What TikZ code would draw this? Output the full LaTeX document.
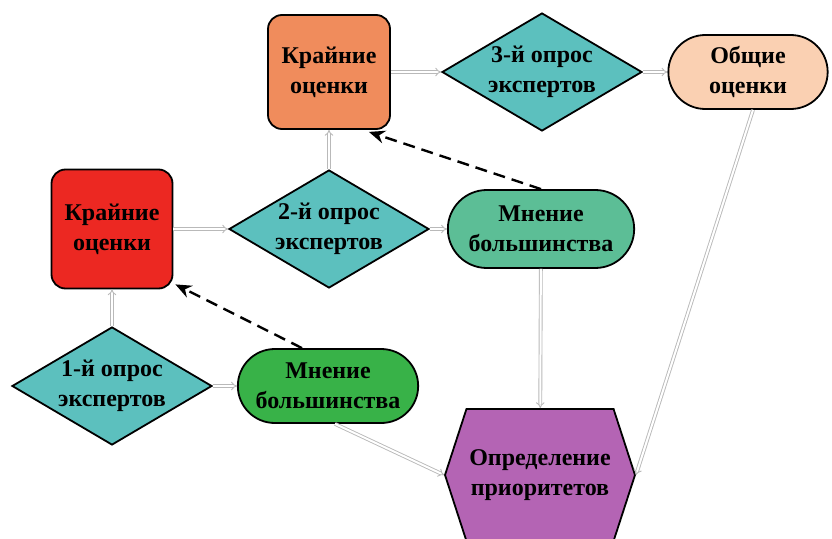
\documentclass[tikz,border=0pt]{standalone}
\usepackage{fontspec}
\setmainfont{Liberation Serif}
\definecolor{exorange}{RGB}{240,140,92}
\definecolor{exred}{RGB}{236,40,34}
\definecolor{exteal}{RGB}{92,192,190}
\definecolor{expeach}{RGB}{250,208,178}
\definecolor{exmint}{RGB}{92,190,150}
\definecolor{exgreen}{RGB}{56,178,72}
\definecolor{expurple}{RGB}{180,100,180}
\usetikzlibrary{arrows.meta,shapes.geometric,shapes.misc,shapes.symbols}

\begin{document}
\begin{tikzpicture}[x=1pt,y=-1pt,
  txt/.style={font=\bfseries\fontsize{24}{30}\selectfont,align=center,draw,line width=1.8pt},
  box/.style={txt,rectangle,rounded corners=14pt},
  poll/.style={txt,diamond,aspect=1.7,inner sep=0pt,minimum width=200pt,minimum height=118pt,fill=exteal},
  pill/.style={txt,rounded rectangle,minimum height=76pt},
  conn/.style={draw=gray!55,double=white,double distance=2pt,line width=0.9pt,-{Implies}},
  back/.style={dashed,dash pattern=on 12pt off 7pt,line width=2.4pt,-{Stealth[length=16pt,width=13pt]}}]
\useasboundingbox (0,0) rectangle (832,538);
\node[box,fill=exorange,minimum width=122pt,minimum height=114pt] (ext2) at (329,72) {Крайние\\оценки};
\node[poll] (q3) at (542,72) {3-й опрос\\экспертов};
\node[pill,fill=expeach,minimum width=166pt,minimum height=74pt] (common) at (748,72) {Общие\\оценки};
\node[box,fill=exred,minimum width=121pt,minimum height=119pt] (ext1) at (112,229) {Крайние\\оценки};
\node[poll] (q2) at (329,229) {2-й опрос\\экспертов};
\node[pill,fill=exmint,minimum width=193pt,minimum height=78pt] (maj2) at (541,229) {Мнение\\большинства};
\node[poll] (q1) at (112,386) {1-й опрос\\экспертов};
\node[pill,fill=exgreen,minimum width=187pt,minimum height=74pt] (maj1) at (328,386) {Мнение\\большинства};
\node[txt,signal,signal to=west and east,signal pointer angle=144,fill=expurple,minimum width=190pt,minimum height=132pt,inner sep=2pt] (prio) at (540,475) {Определение\\приоритетов};
% solid links
\draw[conn] (ext2) -- (q3);
\draw[conn] (q3) -- (common);
\draw[conn] (ext1) -- (q2);
\draw[conn] (q2) -- (maj2);
\draw[conn] (q2) -- (ext2);
\draw[conn] (q1) -- (ext1);
\draw[conn] (q1) -- (maj1);
\draw[conn] (maj2) -- (prio);
\draw[conn] ([xshift=7pt]maj1.south) -- (prio.west);
\draw[conn] ([xshift=5pt]common.south) -- (prio.east);
% feedback
\draw[back] (maj2.north) -- ([xshift=-22pt,yshift=-2pt]ext2.south east);
\draw[back] ([xshift=-26pt]maj1.north) -- ([xshift=2pt,yshift=5pt]ext1.south east);
\end{tikzpicture}
\end{document}
